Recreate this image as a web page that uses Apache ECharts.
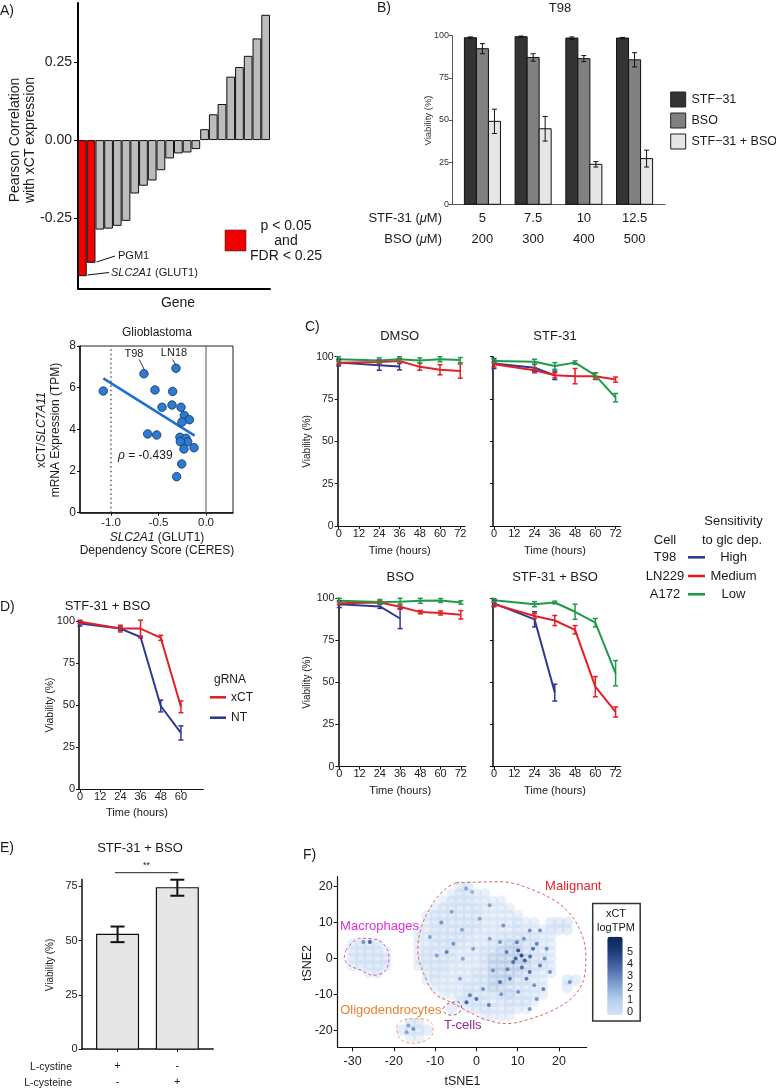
<!DOCTYPE html>
<html><head><meta charset="utf-8">
<script src="https://cdn.jsdelivr.net/npm/echarts@6/dist/echarts.min.js"></script>
<style>html,body{margin:0;padding:0;background:#fff;overflow:hidden}#c{width:776px;height:1089px}</style>
</head><body><div id="c"></div>
<script>
// ================= DATA =================
// Panel A : Pearson correlation with xCT expression (sorted genes)
const genesA = ['SLC2A1','PGM1','g03','g04','g05','g06','g07','g08','g09','g10','g11','g12','g13','g14','g15','g16','g17','g18','g19','g20','g21','g22'];
const corrA = [-0.438,-0.395,-0.288,-0.285,-0.276,-0.260,-0.172,-0.147,-0.130,-0.097,-0.059,-0.043,-0.040,-0.029,0.035,0.083,0.116,0.204,0.235,0.271,0.327,0.403];
const sigA = [1,1,0,0,0,0,0,0,0,0,0,0,0,0,0,0,0,0,0,0,0,0];
const ticksA = [-0.25,0,0.25];

// Panel B : T98 viability
const stfDoseB = ['5','7.5','10','12.5'];
const bsoDoseB = ['200','300','400','500'];
const groupsB = [1,2,3,4];
const stfB = [98.8,99.4,98.6,98.6];
const stfErrB = [0.5,0.4,0.7,0.4];
const bsoB = [92.3,87.1,86.4,85.7];
const bsoErrB = [3.0,2.2,1.8,4.2];
const comboB = [49.2,44.8,23.7,27.1];
const comboErrB = [7.2,7.3,1.6,5.0];
const legendB = ['STF\u221231','BSO','STF\u221231 + BSO'];
const ticksB = [0,25,50,75,100];

// Glioblastoma scatter
const glioScore = [-1.081,-0.653,-0.316,-0.537,-0.351,-0.463,-0.358,-0.263,-0.228,-0.175,-0.253,-0.614,-0.519,-0.274,-0.211,-0.193,-0.270,-0.232,-0.126,-0.256,-0.309];
const glioExpr  = [5.84,6.67,6.93,5.89,5.82,5.06,5.17,5.06,4.66,4.46,4.35,3.78,3.73,3.62,3.57,3.41,3.41,3.06,3.12,2.34,1.73];
const glioFitX = [-1.08,-0.12];
const glioFitY = [6.45,3.70];
const glioTicksX = [-1,-0.5,0];
const glioTicksY = [0,2,4,6,8];

// Panel C : viability over time (rows: T98, LN229, A172)
const timesC = [0,24,36,48,60,72];
const cellsC = ['T98','LN229','A172'];
const sensC = ['High','Medium','Low'];
const treatC = ['DMSO','STF-31','BSO','STF-31 + BSO'];
const cDMSO = [[96.5,95.0,94.2],[96.5,96.8,97.5,94.0,92.3,91.5],[98.5,97.8,98.5,97.8,98.5,98.0]];
const cDMSOErr = [[2,3,2],[1,1,1.5,2,3,4.2],[1.5,1.5,1.5,1.5,1.5,1.5]];
const cSTF = [[96.0,93.5,89.0],[95.5,92.0,89.0,88.5,88.5,86.5],[97.5,97.0,94.5,96.5,89.0,75.8]];
const cSTFErr = [[3,2,2.5],[1.5,1.5,1.5,4.5,2,1.5],[1,1.5,2,1,1.5,2.5]];
const cBSO = [[96.5,95.2,88.0],[97.0,97.5,95.0,91.8,91.3,90.2],[98.5,97.8,98.0,98.5,98.7,97.5]];
const cBSOErr = [[2,1.2,6],[1,1,1.5,1,1.2,2.5],[1.5,1.5,2,1.5,1.2,1]];
const cCombo = [[97.0,87.5,44.0],[96.5,89.5,86.8,81.3,47.5,32.5],[98.8,96.5,97.5,92.0,85.5,55.5]];
const cComboErr = [[2,4.5,5],[1,1.5,3,2.5,6,3],[1,1.5,0.8,4.5,2.5,7.5]];
const ticksTime = [0,12,24,36,48,60,72];
const ticksViab = [0,25,50,75,100];

// Panel D : gRNA
const timesD = [0,24,36,48,60];
const dXCT = [99.5,95.5,95.5,90.0,49.0];
const dXCTErr = [1,2,5,1.5,3.5];
const dNT = [98.5,95.5,90.5,49.5,33.5];
const dNTErr = [1.5,1,0.5,3.5,4.2];
const ticksTimeD = [0,12,24,36,48,60];

// Panel E
const eCystine = ['+','-'];
const eCysteine = ['-','+'];
const eVals = [52.9,74.4];
const eErr = [3.6,3.7];
const ticksE = [0,25,50,75];

// Panel F : tSNE (raster of cell cloud: [y, xStart, levels])
const tsneSegments = [
 [20,-4,'11'],[18,-6,'01100'],[16,-8,'01110000'],[14,-10,'0111110000'],
 [12,-12,'011111100000'],[10,-12,'01111110000100.111'],[8,-14,'0011111100001000111'],
 [6,-14,'00111110001111100'],[4,-30,'0111'],[4,-14,'00111100011221100'],
 [2,-30,'11110'],[2,-14,'01111000112221100'],[0,-30,'11111'],[0,-14,'01111000122222110'],
 [-2,-30,'01111'],[-2,-14,'01110000122222110'],[-4,-26,'01'],[-4,-12,'0110001122221100'],
 [-6,-12,'010000112221100..11'],[-8,-10,'00001112211100..1'],[-10,-8,'0001111121100'],
 [-12,-4,'1111011110'],[-14,-6,'1'],[-14,-2,'01110100'],[-16,2,'0000'],
 [-18,-16,'11'],[-20,-18,'1111'],[-22,-16,'00']
];
const tsneLevel = {'0':0.2,'1':0.9,'2':1.7};
const tsneHigh = [
 [10.9,0.8,5.2],[10.1,2.2,5],[11.7,-0.6,4.5],[8.9,-1,4],[13.7,2.7,4],[14.6,4.1,3.5],[15.4,-2,3.5],[12.9,-3.8,4],
 [8.1,-5.7,3.5],[5.7,-6.6,4],[4,-3.4,3],[1.6,-8.5,3],[0,-11.3,4],[-2.4,-12.2,4.5],[-1.6,-10.3,3.5],[6.5,9.2,3],
 [0.8,11.1,2.5],[3.2,5.5,2.5],[12.9,7.8,3],[15.4,7.8,3],[17,2.7,3],[17.8,-3.8,3],[16.2,-8.5,3.5],[14.6,-11.3,3],
 [12.9,-14.1,3],[10.1,-9.4,3],[7.3,1.8,3.5],[5.7,4.6,3],[12.1,-5.7,3.5],[22.6,-6.6,3],[-3.3,-0.1,2.5],[-0.8,2.7,2.5],
 [3.2,14.8,2.5],[-4,-5.7,2.5],[-25.8,4.6,4.5],[-27.4,4.6,3],[-7.2,1.8,3.5],[-5.6,4.1,3],[-9.6,0.8,2.5],[-11.3,6,2.5],
 [-15.3,-19.7,3],[-16.9,-20.6,2.5],[-16.5,-18.7,2.5],[-2.5,19.5,2.5],[-1,18.5,2],
 [9.5,0,4.5],[11,-2.5,4],[13,0.5,4],[7.5,-3,3.5],[9.8,4.5,3.5],[14,-7.5,3],[6,-10,3],[3,-13,3.5],
 [11.5,5.5,3],[16.5,0,3],[-8.5,10,3],[-6,13,2.5],[-3.5,8,2.5]
];
const malignantOutline = [[-4.9,21.1],[5.7,21.4],[13.7,19.1],[21,14.4],[25.1,7.9],[26.5,0.4],[25.9,-6.1],[23.4,-10.7],[18.6,-14.4],[12.1,-17.2],[7.3,-18.2],[1.6,-16.8],[-3.3,-14],[-7.3,-11.6],[-9.7,-10.2],[-12.1,-6.1],[-14.2,2.3],[-13.3,8.8],[-10.5,15.4],[-7.3,19.6],[-4.9,21.1]];
const macroOutline = [[-31.6,2.3],[-28.3,5.6],[-24.3,5.3],[-21.7,2.8],[-21.2,-0.5],[-22.3,-3.7],[-25.1,-4.7],[-27.9,-3.3],[-30.8,-1.9],[-32,0.4],[-31.6,2.3]];
const tcellOutline = [[-8.1,-14],[-6.9,-12.6],[-4.5,-12.1],[-3.6,-13.5],[-4.5,-15.4],[-6.5,-15.8],[-7.8,-15],[-8.1,-14]];
const oligoOutline = [[-19.4,-19.1],[-17.8,-17.2],[-13.8,-16.8],[-10.9,-18],[-10.5,-20.5],[-12.1,-22.8],[-15.8,-23.7],[-18.6,-22.3],[-19.4,-19.1]];
const ticksFX = [-30,-20,-10,0,10,20];
const ticksFY = [-20,-10,0,10,20];
const cbarTicks = [0,1,2,3,4,5];

// ================= BUILD =================
const FF = '"Liberation Sans", Arial, Helvetica, sans-serif';
const INK = '#1a1a1a';
const grids=[], xAxis=[], yAxis=[], series=[], graphic=[];
function addGrid(box, xa, ya){
  const gi = grids.length;
  grids.push(Object.assign({outerBoundsMode:'none', containLabel:false, show:false}, box));
  xa.gridIndex = gi; ya.gridIndex = gi; xAxis.push(xa); yAxis.push(ya); return gi;
}
function valAx(min,max,vals,o){
  o = o || {};
  const lc = o.lc || '#111';
  const ax = {type:'value', min, max,
    axisLine:{show:o.line!==false, onZero:false, lineStyle:{color:lc, width:o.lw||1}},
    axisTick:{show:o.tick!==false, length:o.tl||3, lineStyle:{color:lc, width:o.tw||1}},
    axisLabel:{show:o.label!==false, fontSize:o.fs||11, color:o.fc||'#222', fontFamily:FF, margin:(o.m==null?3:o.m)},
    splitLine:{show:false}, splitArea:{show:false}};
  if (vals){ ax.axisTick.customValues = vals; ax.axisLabel.customValues = vals; }
  if (o.fmt) ax.axisLabel.formatter = o.fmt;
  if (o.lh) ax.axisLabel.lineHeight = o.lh;
  return ax;
}
function T(x, y, text, fs, o){
  o = o || {};
  const fill = o.c || INK;
  const st = {text, fontSize:fs, fontFamily:FF, fill, align:o.al||'center', verticalAlign:'middle'};
  if (o.it) st.fontStyle = 'italic';
  if (o.lh) st.lineHeight = o.lh;
  if (o.rich){ st.rich = {}; for (const k in o.rich){ st.rich[k] = Object.assign({fontSize:fs, fontFamily:FF, fill}, o.lh?{lineHeight:o.lh}:{}, o.rich[k]); } }
  graphic.push({type:'text', x, y, rotation:o.rot||0, z:10, silent:true, style:st});
}
function L(x1,y1,x2,y2,stroke,w){ graphic.push({type:'line', z:10, silent:true, shape:{x1,y1,x2,y2}, style:{stroke, lineWidth:w||1}}); }
function R(x,y,w,h,fill,stroke,lw,z){ graphic.push({type:'rect', z:z==null?10:z, silent:true, shape:{x,y,width:w,height:h}, style:{fill, stroke, lineWidth:lw||1}}); }

function errSeries(gi, xs, ys, es, color, cap, lw){
  return {type:'custom', xAxisIndex:gi, yAxisIndex:gi, clip:false, silent:true, z:4,
    encode:{x:0, y:[1,2]},
    data: xs.map((x,i)=>[x, ys[i]-es[i], ys[i]+es[i]]),
    renderItem:(p, api)=>{
      const x = api.value(0);
      const lo = api.coord([x, api.value(1)]), hi = api.coord([x, api.value(2)]);
      const s = ()=>({stroke:color, lineWidth:lw});
      return {type:'group', children:[
        {type:'line', shape:{x1:lo[0],y1:lo[1],x2:hi[0],y2:hi[1]}, style:s()},
        {type:'line', shape:{x1:lo[0]-cap,y1:lo[1],x2:lo[0]+cap,y2:lo[1]}, style:s()},
        {type:'line', shape:{x1:hi[0]-cap,y1:hi[1],x2:hi[0]+cap,y2:hi[1]}, style:s()}]};
    }};
}
function rectBars(gi, xs, ys, w, fill, stroke, lw){
  return {type:'custom', xAxisIndex:gi, yAxisIndex:gi, clip:false, silent:true, z:2,
    encode:{x:0, y:1},
    data: xs.map((x,i)=>[x, ys[i]]),
    renderItem:(p, api)=>{
      const x = api.value(0), y = api.value(1);
      const a = api.coord([x - w/2, 0]), b = api.coord([x + w/2, y]);
      return {type:'rect', shape:{x:a[0], y:b[1], width:b[0]-a[0], height:a[1]-b[1]}, style:{fill, stroke, lineWidth:lw||1}};
    }};
}
function lineS(gi, xs, ys, color, w, extra){
  return Object.assign({type:'line', xAxisIndex:gi, yAxisIndex:gi, data: xs.map((x,i)=>[x, ys[i]]),
    symbol:'none', clip:false, silent:true, z:3, lineStyle:{color, width:w}, itemStyle:{color}}, extra||{});
}

// ---------- Panel A ----------
const gA = addGrid({left:78, top:3, width:192, height:285.3},
  {type:'category', data:genesA, axisLine:{show:true, onZero:false, lineStyle:{color:'#000', width:2}}, axisTick:{show:false}, axisLabel:{show:false}, splitLine:{show:false}},
  valAx(-0.477, 0.441, ticksA, {lw:2, lc:'#000', fs:14, m:6, tl:4, fmt:v=>v.toFixed(2)}));
series.push({type:'bar', xAxisIndex:gA, yAxisIndex:gA, barCategoryGap:'0%', silent:true,
  data: corrA.map((v,i)=>({value:v, itemStyle:{color: sigA[i] ? '#f20000' : '#bcbcbc'}})),
  itemStyle:{borderColor:'#111', borderWidth:1}});
T(0, 11, 'A)', 14, {al:'left'});
T(22.5, 140, 'Pearson Correlation\nwith xCT expression', 14, {rot:Math.PI/2, lh:15.5});
T(178, 303, 'Gene', 14);
L(96.5, 262, 115, 256, '#111', 1);
T(118, 256, 'PGM1', 11, {al:'left'});
L(87.5, 275, 109, 272.5, '#111', 1);
T(111, 273, '{i|SLC2A1} (GLUT1)', 11, {al:'left', rich:{i:{fontStyle:'italic'}}});
R(225, 230, 21, 21, '#f20000', '#333', 0.6);
T(286, 226, 'p < 0.05', 14);
T(286, 241, 'and', 14);
T(286, 256.5, 'FDR < 0.25', 14);

// ---------- Panel B ----------
const gB = addGrid({left:452, top:35.7, width:213, height:168.6},
  valAx(0.4, 4.6, groupsB, {tick:false, lc:'#555', fs:13, m:3.5, lh:21, fc:INK, fmt:v=>stfDoseB[Math.round(v)-1]+'\n'+bsoDoseB[Math.round(v)-1]}),
  valAx(0, 100, ticksB, {lc:'#555', fs:9, m:3, tl:3, fc:'#333'}));
const bw = 0.237;
const xsStf = groupsB.map(g=>g-bw), xsBso = groupsB.slice(), xsCombo = groupsB.map(g=>g+bw);
series.push(rectBars(gB, xsStf, stfB, bw, '#333333', '#111', 1));
series.push(rectBars(gB, xsBso, bsoB, bw, '#808080', '#111', 1));
series.push(rectBars(gB, xsCombo, comboB, bw, '#e6e6e6', '#111', 1));
series.push(errSeries(gB, xsStf, stfB, stfErrB, '#111', 2.5, 1));
series.push(errSeries(gB, xsBso, bsoB, bsoErrB, '#111', 2.5, 1));
series.push(errSeries(gB, xsCombo, comboB, comboErrB, '#111', 2.5, 1));
T(377, 8, 'B)', 14, {al:'left'});
T(560, 8, 'T98', 13);
T(428.5, 120.5, 'Viability (%)', 9.5, {rot:Math.PI/2, c:'#333'});
T(442, 218, 'STF-31 ({i|\u03bc}M)', 13, {al:'right', rich:{i:{fontStyle:'italic'}}});
T(442, 239, 'BSO ({i|\u03bc}M)', 13, {al:'right', rich:{i:{fontStyle:'italic'}}});
const legFillB = ['#333333','#808080','#e6e6e6'];
[92,113,134].forEach((y,i)=>{ R(670.7, y, 15, 15, legFillB[i], '#222', 1); T(691.5, y+7.5, legendB[i], 12.5, {al:'left'}); });

// ---------- Glioblastoma scatter ----------
const gG = addGrid({left:80, top:346, width:153, height:166.7, show:true, borderColor:'#222', borderWidth:1, backgroundColor:'transparent'},
  valAx(-1.326, 0.284, glioTicksX, {lw:1.5, fs:11.5, m:4, fc:'#222', fmt:v=>v.toFixed(1)}),
  valAx(0, 8, glioTicksY, {lw:1.5, fs:12, m:4, fc:'#222'}));
series.push(lineS(gG, [-1,-1], [0,8], '#333', 1.2, {lineStyle:{color:'#333', width:1.2, type:[1.5,3]}}));
series.push(lineS(gG, [0,0], [0,8], '#555', 1));
series.push(lineS(gG, glioFitX, glioFitY, '#1f6fd6', 2.6, {z:3}));
series.push({type:'scatter', xAxisIndex:gG, yAxisIndex:gG, silent:true, z:5, symbolSize:8.5,
  data: glioScore.map((x,i)=>[x, glioExpr[i]]),
  itemStyle:{color:'#2b7bd1', borderColor:'#17345f', borderWidth:0.8, opacity:1}});
T(157, 333, 'Glioblastoma', 12);
T(48.5, 430, 'xCT/{i|SLC7A11}\nmRNA Expression (TPM)', 12, {rot:Math.PI/2, lh:13.5, rich:{i:{fontStyle:'italic'}}});
T(157, 538, '{i|SLC2A1} (GLUT1)', 12, {rich:{i:{fontStyle:'italic'}}});
T(157, 551, 'Dependency Score (CERES)', 12);
T(134, 354, 'T98', 11);
L(139.3, 359.5, 144, 369, '#222', 0.9);
T(174, 353, 'LN18', 11);
L(172.7, 359.5, 175.5, 364.5, '#222', 0.9);
T(118, 456, '{i|\u03c1} = -0.439', 12, {al:'left', rich:{i:{fontStyle:'italic'}}});

// ---------- Panel C ----------
const colC = ['#2e3a92','#e41f26','#1e9a4a'];
const cBoxes = [
  {left:337.7, top:356.7, width:127.3, height:169.3},
  {left:493, top:356.7, width:127.3, height:169.3},
  {left:338.3, top:598.3, width:127.3, height:168.4},
  {left:493, top:598.3, width:127.3, height:168.4}];
const cVals = [cDMSO, cSTF, cBSO, cCombo];
const cErrs = [cDMSOErr, cSTFErr, cBSOErr, cComboErr];
cBoxes.forEach((box, k)=>{
  const gi = addGrid(box,
    valAx(-0.6, 74.8, ticksTime, {lw:1.2, fs:11, m:2, fc:'#222'}),
    valAx(0, 100, ticksViab, {lw:1.6, fs:10.5, m:4, fc:'#222', label: k%2===0}));
  for (let c=0;c<3;c++){
    const ys = cVals[k][c];
    const xs = timesC.slice(0, ys.length);
    series.push(lineS(gi, xs, ys, colC[c], 2));
    series.push(errSeries(gi, xs, ys, cErrs[k][c], colC[c], 2.5, 1.5));
  }
  const cx = box.left + 62;
  T(cx, box.top - 20.5, treatC[k], 13);
  T(cx, box.top + box.height + 24.5, 'Time (hours)', 11);
  if (k%2===0) T(307, box.top + box.height/2, 'Viability (%)', 10, {rot:Math.PI/2});
});
T(305, 327, 'C)', 14, {al:'left'});
T(665, 540, 'Cell', 13);
T(733.5, 521, 'Sensitivity', 13);
T(732, 540, 'to glc dep.', 13);
[557.3, 576, 594.3].forEach((y,i)=>{
  T(665, y, cellsC[i], 13);
  L(688, y, 705, y, colC[i], 2.6);
  T(733.5, y, sensC[i], 13);
});

// ---------- Panel D ----------
const gD = addGrid({left:79, top:621, width:124.3, height:168.3},
  valAx(-0.6, 73.3, ticksTimeD, {lw:1.2, fs:11, m:2, fc:'#222'}),
  valAx(0, 100, ticksViab, {lw:1.6, fs:11, m:4, fc:'#222'}));
series.push(lineS(gD, timesD, dNT, colC[0], 2));
series.push(errSeries(gD, timesD, dNT, dNTErr, colC[0], 2.5, 1.5));
series.push(lineS(gD, timesD, dXCT, colC[1], 2));
series.push(errSeries(gD, timesD, dXCT, dXCTErr, colC[1], 2.5, 1.5));
T(0, 607, 'D)', 14, {al:'left'});
T(107.5, 606, 'STF-31 + BSO', 13);
T(50, 705, 'Viability (%)', 10.5, {rot:Math.PI/2});
T(137, 813, 'Time (hours)', 11);
T(230, 679.5, 'gRNA', 12);
L(210, 697.3, 226, 697.3, colC[1], 2.6);
T(231, 697.3, 'xCT', 12, {al:'left'});
L(210, 717.7, 226, 717.7, colC[0], 2.6);
T(231, 717.7, 'NT', 12, {al:'left'});

// ---------- Panel E ----------
const xsE = [1,2];
const gE = addGrid({left:81.7, top:879.5, width:131.5, height:169.5},
  valAx(0.4, 2.6, xsE, {lw:1.5, fs:11, m:9, lh:16, fc:INK, tl:3, fmt:v=>eCystine[Math.round(v)-1]+'\n'+eCysteine[Math.round(v)-1]}),
  valAx(0, 78.2, ticksE, {lw:1.5, fs:11, m:4, fc:'#222'}));
series.push(rectBars(gE, xsE, eVals, 0.7, '#e6e6e6', '#111', 1.2));
series.push(errSeries(gE, xsE, eVals, eErr, '#111', 7, 2));
T(0, 848, 'E)', 14, {al:'left'});
T(140, 848, 'STF-31 + BSO', 13);
L(115, 872.7, 178.3, 872.7, '#222', 1);
T(146.5, 866, '**', 9);
T(50, 965, 'Viability (%)', 10, {rot:Math.PI/2});
T(72, 1067, 'L-cystine', 10.5, {al:'right'});
T(72, 1083, 'L-cysteine', 10.5, {al:'right'});

// ---------- Panel F ----------
const gF = addGrid({left:337.7, top:876.7, width:249, height:170.6},
  valAx(-33.6, 26.7, ticksFX, {lw:1.2, fs:12.5, m:8, tl:4, fc:'#222'}),
  valAx(-24.8, 22.8, ticksFY, {lw:1.2, fs:12.5, m:5, tl:4, fc:'#222'}));
const bgData = [];
tsneSegments.forEach(([y, x0, s])=>{
  for (let i=0;i<s.length;i++){ const ch = s[i]; if (ch !== '.') bgData.push([x0 + 2*i, y, tsneLevel[ch]]); }
});
const idxBg = series.length;
series.push({type:'scatter', xAxisIndex:gF, yAxisIndex:gF, silent:true, z:2, symbolSize:11.5, data:bgData, itemStyle:{opacity:0.38}});
const idxHi = series.length;
series.push({type:'scatter', xAxisIndex:gF, yAxisIndex:gF, silent:true, z:3, symbolSize:4, data:tsneHigh, itemStyle:{opacity:0.85}});
const outlineS = (pts, color)=>({type:'line', xAxisIndex:gF, yAxisIndex:gF, data:pts, symbol:'none', smooth:0.35, silent:true, z:4, clip:false,
  lineStyle:{color, width:1, type:[3,2.5]}});
series.push(outlineS(malignantOutline, '#e0605a'));
series.push(outlineS(macroOutline, '#cc55cc'));
series.push(outlineS(tcellOutline, '#8a3f8a'));
series.push(outlineS(oligoOutline, '#f0a060'));
T(303, 855, 'F)', 14, {al:'left'});
T(462.5, 1081.5, 'tSNE1', 12.5);
T(308, 963, 'tSNE2', 12.5, {rot:Math.PI/2});
T(573.3, 886, 'Malignant', 13, {c:'#e3262a'});
T(379.5, 926, 'Macrophages', 13, {c:'#e030e0'});
T(390.8, 1010, 'Oligodendrocytes', 13, {c:'#f07f2a'});
T(462.8, 1025, 'T-cells', 13, {c:'#96278f'});
R(592.7, 903.5, 47.5, 117.5, 'rgba(0,0,0,0)', '#333', 1.5, 1);
T(616, 914, 'xCT', 11);
T(616, 927.5, 'logTPM', 11);
cbarTicks.forEach(v=>{ T(627, 1011.5 - v*11.9, String(v), 11, {al:'left'}); });

const option = {
  animation:false, backgroundColor:'#ffffff', textStyle:{fontFamily:FF},
  grid:grids, xAxis, yAxis, series,
  visualMap:[{type:'continuous', min:-0.3, max:6.3, dimension:2, seriesIndex:[idxBg, idxHi],
    inRange:{color:['#d4e4f6','#b4cdec','#7e9fd0','#4a6aa8','#1f3d7a','#0a2454']},
    left:607.3, top:936.7, itemWidth:15.4, itemHeight:78.3, padding:0, calculable:false, show:true, text:null, z:5,
    textStyle:{fontSize:1, color:'rgba(0,0,0,0)'}}],
  graphic:{elements:graphic}
};
const chart = echarts.init(document.getElementById('c'), null, {width:776, height:1089});
chart.setOption(option);
</script>
</body></html>
